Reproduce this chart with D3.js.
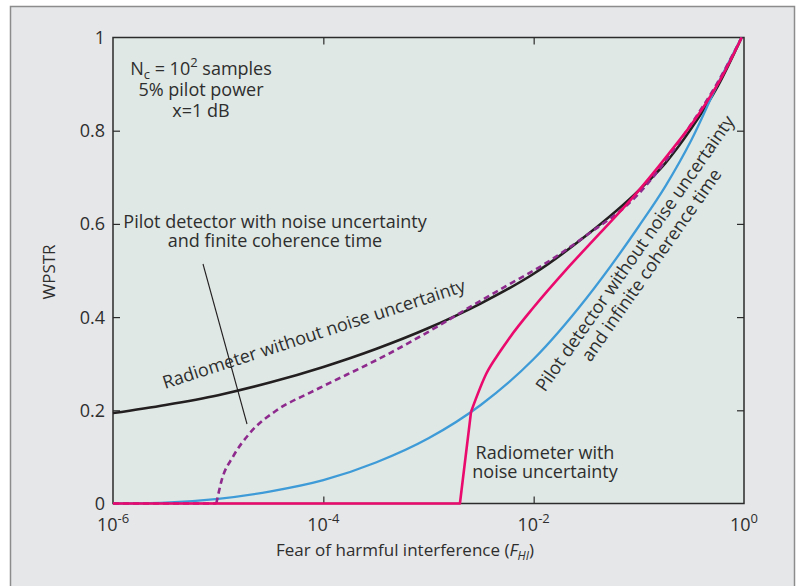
<!DOCTYPE html>
<html>
<head>
<meta charset="utf-8">
<script src="https://cdn.jsdelivr.net/npm/d3@7"></script>
<style>
  body { margin: 0; background: #fff; }
  svg { display: block; }
  text { font-family: 'Open Sans', sans-serif; fill: #2e2e2e; }
</style>
</head>
<body>
<div id="grafico"></div>
<script>

// Datos

// Radiometro sin incertidumbre de ruido (negro)
const fhiRadSin = [1e-6, 3.16e-6, 1e-5, 3.16e-5, 1e-4, 3.16e-4, 1e-3, 3.16e-3, 1e-2, 3.16e-2, 0.1, 0.178, 0.316, 0.562, 0.95];
const wpstrRadSin = [0.194, 0.2115, 0.2325, 0.26, 0.293, 0.3315, 0.3765, 0.4295, 0.493, 0.575, 0.672, 0.73, 0.805, 0.895, 1.0];

// Detector piloto sin incertidumbre, coherencia infinita (azul)
const fhiPilotoSin = [1e-6, 3.16e-6, 1e-5, 3.16e-5, 1e-4, 3.16e-4, 1e-3, 3.16e-3, 1e-2, 3.16e-2, 0.1, 0.178, 0.316, 0.562, 0.95];
const wpstrPilotoSin = [0, 0.002, 0.01, 0.026, 0.05, 0.088, 0.14, 0.212, 0.31, 0.44, 0.595, 0.68, 0.78, 0.9, 1.0];

// Detector piloto con incertidumbre y coherencia finita (morado discontinuo)
const fhiPilotoCon = [1e-6, 9.6e-6, 1.08e-5, 1.38e-5, 2.0e-5, 3.6e-5, 7.5e-5, 1e-4, 4e-4, 1.2e-3, 2.67e-3, 5.5e-3, 1.15e-2, 3.16e-2, 0.1, 0.198, 0.306, 0.55, 0.95];
const wpstrPilotoCon = [0, 0, 0.05, 0.1, 0.151, 0.2, 0.238, 0.252, 0.319, 0.379, 0.426, 0.467, 0.508, 0.575, 0.665, 0.748, 0.81, 0.9, 1.0];

// Radiometro con incertidumbre de ruido (rosa)
const fhiRadCon = [1e-6, 1.99e-3, 2.54e-3, 3.57e-3, 4.79e-3, 5.96e-3, 9.9e-3, 2.06e-2, 4.27e-2, 8.85e-2, 0.184, 0.383, 0.631, 0.95];
const wpstrRadCon = [0, 0, 0.197, 0.28, 0.326, 0.357, 0.42, 0.503, 0.58, 0.658, 0.745, 0.84, 0.92, 1.0];

// Ejes
const ticksX = [1e-6, 1e-4, 1e-2, 1];
const expX = ["-6", "-4", "-2", "0"];
const ticksY = [0, 0.2, 0.4, 0.6, 0.8, 1];
const etiquetasY = ["0", "0.2", "0.4", "0.6", "0.8", "1"];


// Tamanos
const ancho = 797, alto = 586;
const izq = 113, der = 744, arriba = 37.5, abajo = 503.5;

const svg = d3.select('#grafico')
    .append('svg')
    .attr('width', ancho)
    .attr('height', alto);

// Marco exterior
svg.append('rect')
    .attr('x', 10.5).attr('y', 6.5)
    .attr('width', 784).attr('height', 640)
    .attr('fill', '#e6e7e9')
    .attr('stroke', '#8c8c8c')
    .attr('stroke-width', 1.5);

// Escalas
const x = d3.scaleLog().domain([1e-6, 1]).range([izq, der]);
const y = d3.scaleLinear().domain([0, 1]).range([abajo, arriba]);

// Fondo del grafico
svg.append('rect')
    .attr('x', izq).attr('y', arriba)
    .attr('width', der - izq).attr('height', abajo - arriba)
    .attr('fill', '#dfe8e4');

svg.append('clipPath').attr('id', 'recorte')
    .append('rect')
    .attr('x', izq - 2).attr('y', arriba - 2)
    .attr('width', der - izq + 4).attr('height', abajo - arriba + 4);

// Ticks hacia dentro
const colorEje = '#2b2b2b';
const largo = 7;
const ticksYInt = ticksY.filter(d => d > 0 && d < 1);
const ticksXInt = ticksX.filter(d => d > 1e-6 && d < 1);

svg.append('g')
    .attr('transform', `translate(${izq},0)`)
    .call(d3.axisRight(y).tickValues(ticksYInt).tickSize(largo).tickFormat(''))
    .call(g => g.select('.domain').remove());
svg.append('g')
    .attr('transform', `translate(${der},0)`)
    .call(d3.axisLeft(y).tickValues(ticksYInt).tickSize(largo).tickFormat(''))
    .call(g => g.select('.domain').remove());
svg.append('g')
    .attr('transform', `translate(0,${abajo})`)
    .call(d3.axisTop(x).tickValues(ticksXInt).tickSize(largo).tickFormat(''))
    .call(g => g.select('.domain').remove());
svg.append('g')
    .attr('transform', `translate(0,${arriba})`)
    .call(d3.axisBottom(x).tickValues(ticksXInt).tickSize(largo).tickFormat(''))
    .call(g => g.select('.domain').remove());
svg.selectAll('.tick line').attr('stroke', colorEje).attr('stroke-width', 1.2);

// Borde del grafico
svg.append('rect')
    .attr('x', izq).attr('y', arriba)
    .attr('width', der - izq).attr('height', abajo - arriba)
    .attr('fill', 'none')
    .attr('stroke', colorEje)
    .attr('stroke-width', 1.5);

// Etiquetas eje Y
svg.append('g').selectAll('text')
    .data(ticksY)
    .join('text')
    .attr('x', izq - 8)
    .attr('y', d => y(d))
    .attr('dy', '0.36em')
    .attr('text-anchor', 'end')
    .attr('font-size', 18)
    .text((d, i) => etiquetasY[i]);

// Etiquetas eje X (10 con exponente)
const etX = svg.append('g').selectAll('text')
    .data(ticksX)
    .join('text')
    .attr('x', d => x(d))
    .attr('y', 531)
    .attr('text-anchor', 'middle')
    .attr('font-size', 18);
etX.append('tspan').text('10');
etX.append('tspan')
    .attr('dy', -8)
    .attr('font-size', 13)
    .text((d, i) => expX[i]);

// Titulos de ejes
const tituloX = svg.append('text')
    .attr('x', 405).attr('y', 556)
    .attr('text-anchor', 'middle')
    .attr('font-size', 17);
tituloX.append('tspan').text('Fear of harmful interference (');
tituloX.append('tspan').attr('font-style', 'italic').text('F');
tituloX.append('tspan').attr('font-style', 'italic').attr('font-size', 12).attr('dy', 4).text('HI');
tituloX.append('tspan').attr('dy', -4).text(')');

svg.append('text')
    .attr('transform', 'translate(55,272) rotate(-90)')
    .attr('text-anchor', 'middle')
    .attr('font-size', 17)
    .text('WPSTR');

// Curvas
const capa = svg.append('g').attr('clip-path', 'url(#recorte)');

function dibujarSerie(fhi, wpstr, color, grosor, dash, quiebre) {
    const puntos = fhi.map((f, i) => [f, wpstr[i]]);
    const recta = d3.line().x(d => x(d[0])).y(d => y(d[1]));
    const suave = d3.line().x(d => x(d[0])).y(d => y(d[1])).curve(d3.curveMonotoneX);
    if (quiebre > 0) {
        capa.append('path')
            .attr('d', recta(puntos.slice(0, quiebre + 1)))
            .attr('fill', 'none').attr('stroke', color)
            .attr('stroke-width', grosor).attr('stroke-dasharray', dash)
            .attr('stroke-linejoin', 'round');
    }
    capa.append('path')
        .attr('d', suave(puntos.slice(quiebre)))
        .attr('fill', 'none').attr('stroke', color)
        .attr('stroke-width', grosor).attr('stroke-dasharray', dash)
        .attr('stroke-linejoin', 'round');
}

dibujarSerie(fhiRadSin, wpstrRadSin, '#231f20', 2.6, null, 0);
dibujarSerie(fhiPilotoSin, wpstrPilotoSin, '#3f9bd7', 2.3, null, 0);
dibujarSerie(fhiPilotoCon, wpstrPilotoCon, '#8e2a8e', 2.6, '6,4', 1);
dibujarSerie(fhiRadCon, wpstrRadCon, '#ea0a6e', 2.6, null, 2);

// Anotaciones
const nota = svg.append('g').attr('font-size', 18).attr('text-anchor', 'middle');

const parametros = nota.append('text');
parametros.append('tspan').attr('x', 201).attr('y', 75).text('N');
parametros.append('tspan').attr('font-size', 13).attr('dy', 4).text('c');
parametros.append('tspan').attr('dy', -4).text(' = 10');
parametros.append('tspan').attr('font-size', 13).attr('dy', -8).text('2');
parametros.append('tspan').attr('dy', 8).text(' samples');
parametros.append('tspan').attr('x', 201).attr('y', 96).text('5% pilot power');
parametros.append('tspan').attr('x', 201).attr('y', 117).text('x=1 dB');

const pilotoCon = nota.append('text');
pilotoCon.append('tspan').attr('x', 275).attr('y', 228).text('Pilot detector with noise uncertainty');
pilotoCon.append('tspan').attr('x', 275).attr('y', 247).text('and finite coherence time');

// Flecha de la anotacion
svg.append('line')
    .attr('x1', 203).attr('y1', 264)
    .attr('x2', 247).attr('y2', 424)
    .attr('stroke', '#231f20')
    .attr('stroke-width', 1.1);

svg.append('text')
    .attr('transform', 'translate(165,389) rotate(-18)')
    .attr('font-size', 18)
    .text('Radiometer without noise uncertainty');

const radCon = nota.append('text');
radCon.append('tspan').attr('x', 545).attr('y', 459).text('Radiometer with');
radCon.append('tspan').attr('x', 545).attr('y', 478).text('noise uncertainty');

const pilotoSin = nota.append('text').attr('transform', 'translate(640,257) rotate(-55)');
pilotoSin.append('tspan').attr('x', 0).attr('y', 0).text('Pilot detector without noise uncertainty');
pilotoSin.append('tspan').attr('x', 0).attr('y', 20).text('and infinite coherence time');

</script>
</body>
</html>
